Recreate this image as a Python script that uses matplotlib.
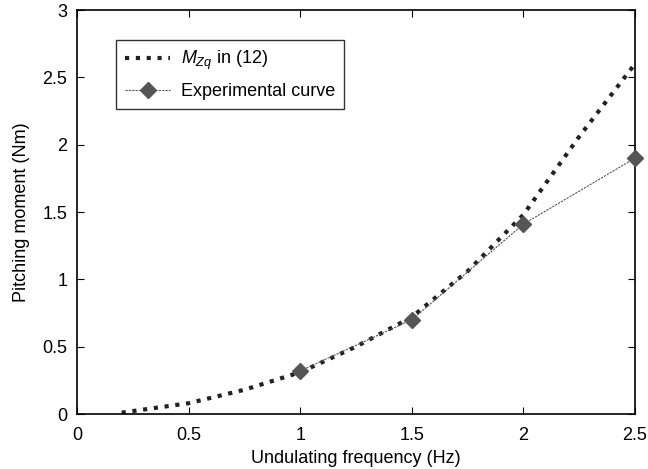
import matplotlib
matplotlib.use('Agg')
from matplotlib import pyplot as plt

plt.rcParams['font.family'] = ['Liberation Sans', 'DejaVu Sans']
plt.rcParams['mathtext.fontset'] = 'custom'
plt.rcParams['mathtext.it'] = 'Liberation Sans:italic'
plt.rcParams['mathtext.rm'] = 'Liberation Sans'

# model curve M_Zq
model_x = [0.2, 0.5, 0.75, 1.0, 1.25, 1.5, 1.75, 2.0, 2.25, 2.5]
model_y = [0.01, 0.08, 0.18, 0.31, 0.50, 0.72, 1.06, 1.48, 2.06, 2.6]

# experimental points
exp_x = [1.0, 1.5, 2.0, 2.5]
exp_y = [0.32, 0.70, 1.41, 1.90]

fig = plt.figure(figsize=(6.48, 4.69), dpi=100)
ax = fig.add_axes([77/648, 55/469, 558/648, 404/469])

ax.plot(model_x, model_y, color='#222222', linestyle=(0, (1, 1.6)), linewidth=3,
        label=r'$M_{Zq}$ in (12)')
ax.plot(exp_x, exp_y, color='#555555', linestyle=(0, (2, 1)), linewidth=0.8,
        marker='D', markersize=8, markerfacecolor='#555555', markeredgecolor='#555555',
        label='Experimental curve', clip_on=False, zorder=5)

ax.set_xlim(0, 2.5)
ax.set_ylim(0, 3)
ax.set_xticks([0, 0.5, 1, 1.5, 2, 2.5])
ax.set_xticklabels(['0', '0.5', '1', '1.5', '2', '2.5'])
ax.set_yticks([0, 0.5, 1, 1.5, 2, 2.5, 3])
ax.set_yticklabels(['0', '0.5', '1', '1.5', '2', '2.5', '3'])
ax.tick_params(direction='in', top=True, right=True, labelsize=13, length=5)
ax.tick_params(axis='x', pad=9)
ax.tick_params(axis='y', pad=7)
for s in ax.spines.values():
    s.set_linewidth(1.2)

ax.set_xlabel('Undulating frequency (Hz)', fontsize=13, labelpad=5)
ax.set_ylabel('Pitching moment (Nm)', fontsize=13, labelpad=9)

leg = ax.legend(loc='upper left', bbox_to_anchor=(0.07, 0.926), borderaxespad=0,
                fontsize=13, frameon=True, fancybox=False, edgecolor='black',
                handlelength=2.5, handletextpad=0.6, borderpad=0.5, labelspacing=0.6)
leg.get_frame().set_linewidth(1.0)

plt.savefig('out.png', dpi=100)
